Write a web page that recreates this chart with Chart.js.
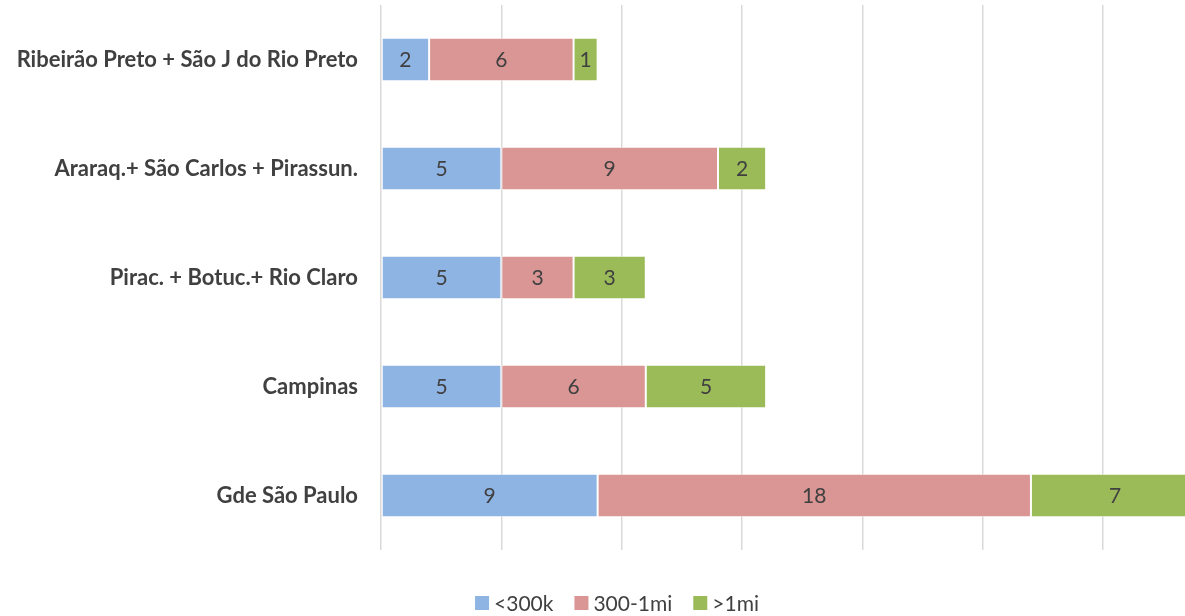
<!DOCTYPE html>
<html>
<head>
<meta charset="utf-8">
<script src="https://cdn.jsdelivr.net/npm/chart.js@4"></script>
<style>
  body { margin: 0; background: #fff; }
  #wrap { position: relative; width: 1185px; height: 616px; }
</style>
</head>
<body>
<div id="wrap"><canvas id="barChart"></canvas></div>
<script>
const categories = [
    'Ribeirão Preto + São J do Rio Preto',
    'Araraq.+ São Carlos + Pirassun.',
    'Pirac. + Botuc.+ Rio Claro',
    'Campinas',
    'Gde São Paulo'
];
const seriesNames = ['<300k', '300-1mi', '>1mi'];
const small = [2, 5, 5, 5, 9];
const medium = [6, 9, 3, 6, 18];
const large = [1, 2, 3, 5, 7];
const colors = ['#8EB4E3', '#D99694', '#9BBB59'];

const textColor = '#404040';
const fontFamily = "Lato, 'Open Sans', sans-serif";

// value labels in the middle of each segment
const valueLabels = {
    id: 'valueLabels',
    afterDatasetsDraw(chart) {
        const ctx = chart.ctx;
        ctx.save();
        ctx.font = '21px ' + fontFamily;
        ctx.fillStyle = textColor;
        ctx.textAlign = 'center';
        ctx.textBaseline = 'middle';
        chart.data.datasets.forEach((ds, i) => {
            chart.getDatasetMeta(i).data.forEach((bar, j) => {
                const x = (bar.x + bar.base) / 2;
                ctx.fillText(String(ds.data[j]), x, bar.y + 1);
            });
        });
        ctx.restore();
    }
};

// legend drawn by hand so it can sit where the original one is
const bottomLegend = {
    id: 'bottomLegend',
    afterDraw(chart) {
        const ctx = chart.ctx;
        ctx.save();
        ctx.font = '21px ' + fontFamily;
        ctx.textBaseline = 'middle';
        const box = 14, gap = 5, spacing = 21;
        const widths = chart.data.datasets.map(ds => ctx.measureText(ds.label).width);
        let total = 0;
        widths.forEach((w, i) => {
            total += box + gap + w + (i < widths.length - 1 ? spacing : 0);
        });
        let x = 617 - total / 2;
        const y = 603;
        chart.data.datasets.forEach((ds, i) => {
            ctx.fillStyle = ds.backgroundColor;
            ctx.fillRect(x, y - box / 2, box, box);
            x += box + gap;
            ctx.fillStyle = textColor;
            ctx.textAlign = 'left';
            ctx.fillText(ds.label, x, y + 1);
            x += widths[i] + spacing;
        });
        ctx.restore();
    }
};

const ctx = document.getElementById('barChart').getContext('2d');
const barChart = new Chart(ctx, {
    type: 'bar',
    data: {
        labels: categories,
        datasets: [small, medium, large].map((values, i) => ({
            label: seriesNames[i],
            data: values,
            backgroundColor: colors[i],
            borderColor: 'rgba(255,255,255,0.7)',
            borderWidth: 1,
            borderSkipped: false,
            categoryPercentage: 1,
            barPercentage: 0.4
        }))
    },
    options: {
        indexAxis: 'y',
        responsive: true,
        maintainAspectRatio: false,
        animation: false,
        layout: {
            padding: { top: 5, bottom: 66, left: 0, right: 0 }
        },
        scales: {
            x: {
                stacked: true,
                min: 0,
                max: 33.4,
                border: { display: false },
                grid: {
                    color: (c) => (c.tick && c.tick.value % 5 === 0) ? '#D9D9D9' : 'rgba(0,0,0,0)',
                    lineWidth: 1.5,
                    drawTicks: false
                },
                ticks: { display: false, stepSize: 5 },
                afterFit: function(scale) {
                    scale.height = 0;
                }
            },
            y: {
                stacked: true,
                border: { display: false },
                grid: { display: false, drawTicks: false },
                ticks: {
                    color: textColor,
                    padding: 23,
                    font: { family: fontFamily, size: 22, weight: 'bold' }
                },
                afterFit: function(scale) {
                    scale.width = 381;
                    scale.paddingTop = 0;
                    scale.paddingBottom = 0;
                }
            }
        },
        plugins: {
            legend: { display: false },
            tooltip: { enabled: false }
        }
    },
    plugins: [valueLabels, bottomLegend]
});
</script>
</body>
</html>
